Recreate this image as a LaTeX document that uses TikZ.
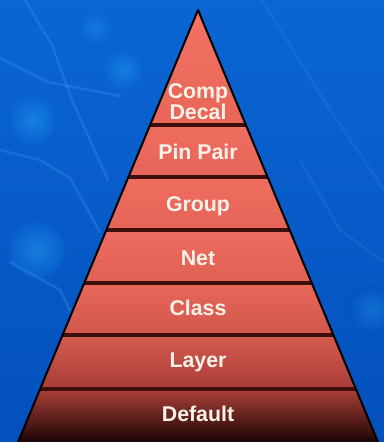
\documentclass[tikz,border=0pt]{standalone}
\usepackage{fontspec}
\setmainfont{Liberation Sans}

\definecolor{bgblue}{RGB}{10,102,212}
\definecolor{bgdeep}{RGB}{4,80,188}
\definecolor{bgglow}{RGB}{40,170,250}
\definecolor{traceblue}{RGB}{70,160,250}
\definecolor{lvlwhite}{RGB}{250,242,232}
\definecolor{seamdark}{RGB}{60,14,12}
\definecolor{seammid}{RGB}{190,74,64}
\definecolor{seamlit}{RGB}{248,128,108}

\tikzset{every picture/.style={line width=0.75pt}}
\tikzset{
  lvltext/.style={text=lvlwhite, font=\fontsize{16}{14.3}\selectfont\bfseries, inner sep=0.75pt},
  seam/.style={left color=seamdark, middle color=seammid, right color=seamdark},
  seam lit/.style={left color=seamdark, middle color=seamlit, right color=seamdark},
  trace/.style={traceblue, opacity=0.25, line width=2pt, line cap=round, line join=round},
}

\begin{document}
\begin{tikzpicture}[x=0.75pt,y=0.75pt,yscale=-1,xscale=1]
\useasboundingbox (0,0) rectangle (384,442);

%Background
\shade[top color=bgblue, bottom color=bgdeep] (0,0) rectangle (384,442);
\shade[inner color=bgglow, outer color=bgblue, opacity=0.45] (33,120) circle (24);
\shade[inner color=bgglow, outer color=bgblue, opacity=0.45] (37,250) circle (28);
\shade[inner color=bgglow, outer color=bgblue, opacity=0.4] (123,70) circle (20);
\shade[inner color=bgglow, outer color=bgblue, opacity=0.3] (95,28) circle (16);
\shade[inner color=bgglow, outer color=bgdeep, opacity=0.3] (372,310) circle (24);

%Circuit traces
\draw[trace] (25,0) -- (52,45) -- (72,100) -- (108,180);
\draw[trace] (0,58) -- (48,82) -- (120,96);
\draw[trace] (0,150) -- (40,160) -- (70,178) -- (100,232);
\draw[trace] (10,262) -- (60,290) -- (80,330);
\draw[trace, opacity=0.15] (262,0) -- (330,110) -- (384,190);
\draw[trace, opacity=0.15] (300,160) -- (340,230) -- (384,262);

%Pyramid levels
\shade[top color={rgb,255:red,242;green,114;blue,100}, bottom color={rgb,255:red,232;green,102;blue,88}] (198,10) -- (246,125) -- (150,125) -- cycle;
\shade[top color={rgb,255:red,240;green,110;blue,96}, bottom color={rgb,255:red,228;green,100;blue,87}] (150,125) -- (246,125) -- (267.6,177) -- (128.4,177) -- cycle;
\shade[top color={rgb,255:red,240;green,110;blue,96}, bottom color={rgb,255:red,228;green,100;blue,87}] (128.4,177) -- (267.6,177) -- (289.7,230) -- (106.3,230) -- cycle;
\shade[top color={rgb,255:red,238;green,108;blue,95}, bottom color={rgb,255:red,224;green,96;blue,84}] (106.3,230) -- (289.7,230) -- (311.8,283) -- (84.2,283) -- cycle;
\shade[top color={rgb,255:red,232;green,104;blue,90}, bottom color={rgb,255:red,208;green,86;blue,75}] (84.2,283) -- (311.8,283) -- (333.4,335) -- (62.6,335) -- cycle;
\shade[top color={rgb,255:red,214;green,92;blue,80}, bottom color={rgb,255:red,168;green,60;blue,53}] (62.6,335) -- (333.4,335) -- (355.9,389) -- (40.1,389) -- cycle;
\shade[top color={rgb,255:red,172;green,64;blue,56}, bottom color={rgb,255:red,28;green,5;blue,5}] (40.1,389) -- (355.9,389) -- (378,442) -- (18,442) -- cycle;

%Seams between levels
\shade[seam] (150,123.5) rectangle (246,126.5);
\shade[seam] (128.4,175.5) rectangle (267.6,178.5);
\shade[seam] (106.3,228.5) rectangle (289.7,231.5);
\shade[seam] (84.2,281.5) rectangle (311.8,284.5);
\shade[seam lit] (62.6,333.5) rectangle (333.4,336.5);
\shade[seam lit] (40.1,387.5) rectangle (355.9,390.5);

%Outline
\draw[line width=1.5pt, line join=round] (18,442) -- (198,10) -- (378,442);

% Text Nodes
\node[lvltext, align=center] (compdecal) at (198,102) {Comp\\Decal};
\node[lvltext, anchor=base] (pinpair) at (198,159) {Pin Pair};
\node[lvltext, anchor=base] (group) at (198,211) {Group};
\node[lvltext, anchor=base] (net) at (198,265) {Net};
\node[lvltext, anchor=base] (class) at (198,315) {Class};
\node[lvltext, anchor=base] (layer) at (198,367) {Layer};
\node[lvltext, anchor=base] (default) at (198,421) {Default};

\end{tikzpicture}
\end{document}
